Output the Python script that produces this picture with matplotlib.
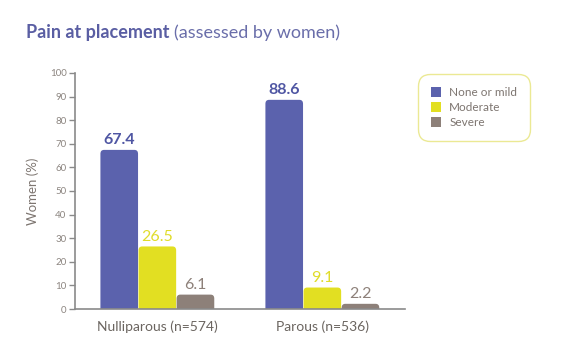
import matplotlib.pyplot as plt
import numpy as np
from matplotlib.patches import FancyBboxPatch

plt.rcParams['font.family'] = ['Lato', 'DejaVu Sans']

groups = ['Nulliparous (n=574)', 'Parous (n=536)']
series = ['None or mild', 'Moderate', 'Severe']
none_mild = [67.4, 88.6]
moderate = [26.5, 9.1]
severe = [6.1, 2.2]
yticks = [0, 10, 20, 30, 40, 50, 60, 70, 80, 90, 100]

colors = ['#5b62ad', '#e2df22', '#8d8079']
label_colors = ['#4f56a3', '#e0dc2a', '#8d8079']
values = [none_mild, moderate, severe]

fig = plt.figure(figsize=(5.67, 3.61), dpi=100)
ax = fig.add_axes([0.132, 0.144, 0.582, 0.654])

x = np.arange(len(groups))
w = 0.228
ax.set_xlim(-0.5, 1.5)
ax.set_ylim(0, 100)

for j, vals in enumerate(values):
    offs = (j - 1) * (w + 0.003)
    for i, v in enumerate(vals):
        xl = x[i] + offs - w / 2
        p = FancyBboxPatch((xl, -6), w, v + 6,
                           boxstyle='round,pad=0,rounding_size=0.022',
                           mutation_aspect=75, fc=colors[j], ec='none')
        ax.add_patch(p)
        ax.text(x[i] + offs, v + 1.2, f'{v}', ha='center', va='bottom',
                fontsize=11.5, color=label_colors[j],
                fontweight='bold' if j == 0 else 'normal')

ax.set_yticks(yticks)
ax.set_yticklabels([str(t) for t in yticks], fontsize=7, color='#8c8580')
ax.tick_params(axis='y', length=4, width=1, color='#8a8a8a', pad=2)
ax.set_xticks(x)
ax.set_xticklabels(groups, fontsize=10, color='#6b6560')
ax.tick_params(axis='x', length=0, pad=8)
for s in ['top', 'right']:
    ax.spines[s].set_visible(False)
for s in ['left', 'bottom']:
    ax.spines[s].set_color('#8a8a8a')
    ax.spines[s].set_linewidth(1.2)
ax.set_ylabel('Women (%)', fontsize=9.5, color='#7d7570', labelpad=8)

# title in two parts: bold then normal, placed right after
t1 = fig.text(26 / 567, 1 - 38 / 361, 'Pain at placement', fontsize=13,
              fontweight='bold', color='#5a5ea3', va='baseline')
r = fig.canvas.get_renderer()
bb = t1.get_window_extent(renderer=r)
fig.text((bb.x1 + 4) / 567, 1 - 38 / 361, '(assessed by women)', fontsize=13,
         color='#6a6eaa', va='baseline')

leg = ax.legend([plt.Rectangle((0, 0), 1, 1, fc=c) for c in colors], series,
                loc='upper left', bbox_to_anchor=(412 / 567, 1 - 68 / 361),
                bbox_transform=fig.transFigure, frameon=True, fontsize=8.5,
                handlelength=0.85, handleheight=0.85, handletextpad=0.7,
                labelspacing=0.35, borderpad=1.1, fancybox=True,
                edgecolor='#e6e47a', labelcolor='#7d7570')
leg.get_frame().set_linewidth(1.0)
leg.get_frame().set_boxstyle('round,pad=0,rounding_size=1.0')

fig.savefig('out.png', dpi=100)
